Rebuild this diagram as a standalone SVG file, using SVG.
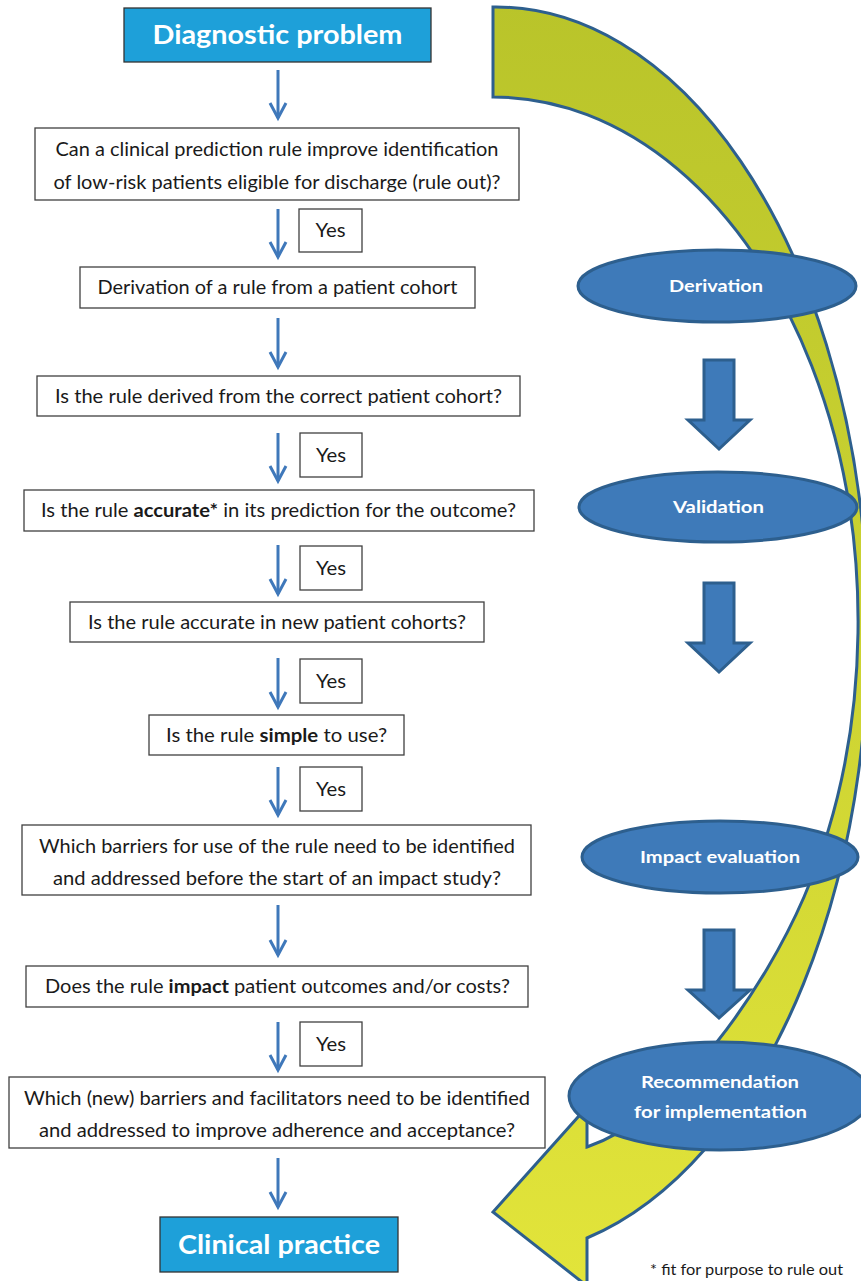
<svg xmlns="http://www.w3.org/2000/svg" width="861" height="1281" viewBox="0 0 861 1281">
<defs>
<style>
.box{fill:#fff;stroke:#404040;stroke-width:1.3}
.hdr{fill:#1ea0d9;stroke:#333;stroke-width:1.3}
.t{font-family:Lato,"Liberation Sans",sans-serif;font-size:19px;fill:#1a1a1a;text-anchor:middle}
.th{font-family:Lato,"Liberation Sans",sans-serif;font-size:26px;font-weight:bold;fill:#fff;text-anchor:middle}
.el{fill:#3e7ab9;stroke:#2d5f8e;stroke-width:3}
.et{font-family:Lato,"Liberation Sans",sans-serif;font-size:17px;font-weight:bold;fill:#fff;text-anchor:middle}
.conn{stroke:#3f78ba;stroke-width:3;fill:none;marker-end:url(#ah)}
.blk{fill:#3e7ab9;stroke:#2d5f8e;stroke-width:3;stroke-linejoin:miter}
.fn{font-family:Lato,"Liberation Sans",sans-serif;font-size:14.5px;fill:#1a1a1a}
</style>
<marker id="ah" markerUnits="userSpaceOnUse" markerWidth="20" markerHeight="18" refX="16" refY="9" orient="auto" viewBox="0 0 20 18" overflow="visible">
<path d="M1,1 L16,9 L1,17" fill="none" stroke="#3f78ba" stroke-width="3"/>
</marker>
<linearGradient id="bandg" gradientUnits="userSpaceOnUse" x1="0" y1="0" x2="0" y2="1281">
<stop offset="0" stop-color="#b9c42a"/>
<stop offset="0.5" stop-color="#ccd332"/>
<stop offset="1" stop-color="#e2e43a"/>
</linearGradient>
</defs>

<g id="curved-arrow">
<path d="M493,7 A372,625 0 0 1 587,1238 L587,1286 L493,1212 L587,1107 L587,1147 C680,1115 766,985 804,897 A365,525 0 0 0 493,97 Z" fill="url(#bandg)" stroke="#2d5f8e" stroke-width="3" stroke-linejoin="miter"/>
</g>

<g id="connectors">
<path class="conn" d="M278,70 V118"/>
<path class="conn" d="M278,209 V257"/>
<path class="conn" d="M278,318 V367"/>
<path class="conn" d="M278,433 V481"/>
<path class="conn" d="M278,545 V594"/>
<path class="conn" d="M278,658 V707"/>
<path class="conn" d="M278,767 V815"/>
<path class="conn" d="M278,905 V955"/>
<path class="conn" d="M278,1022 V1070"/>
<path class="conn" d="M278,1158 V1207"/>
</g>

<g id="n-diagnostic">
<rect class="hdr" x="124" y="8" width="307" height="54"/>
<text class="th" x="277.5" y="44" textLength="250" lengthAdjust="spacingAndGlyphs">Diagnostic problem</text>
</g>

<g id="n-q1">
<rect class="box" x="35" y="128" width="484" height="72"/>
<text class="t" x="277" y="156" textLength="443" lengthAdjust="spacingAndGlyphs">Can a clinical prediction rule improve identification</text>
<text class="t" x="277" y="188.5" textLength="447" lengthAdjust="spacingAndGlyphs">of low-risk patients eligible for discharge (rule out)?</text>
</g>

<g id="yes1"><rect class="box" x="299" y="209" width="63" height="43"/><text class="t" x="330.5" y="237" textLength="30" lengthAdjust="spacingAndGlyphs">Yes</text></g>

<g id="n-derivation-step">
<rect class="box" x="80" y="267" width="395" height="41"/>
<text class="t" x="277.5" y="294" textLength="360" lengthAdjust="spacingAndGlyphs">Derivation of a rule from a patient cohort</text>
</g>

<g id="n-q2">
<rect class="box" x="37" y="376" width="483" height="40"/>
<text class="t" x="278.5" y="402.5" textLength="447" lengthAdjust="spacingAndGlyphs">Is the rule derived from the correct patient cohort?</text>
</g>

<g id="yes2"><rect class="box" x="300" y="433" width="62" height="44"/><text class="t" x="331" y="461.5" textLength="30" lengthAdjust="spacingAndGlyphs">Yes</text></g>

<g id="n-q3">
<rect class="box" x="24" y="490" width="510" height="41"/>
<text class="t" x="278.5" y="517" textLength="475" lengthAdjust="spacingAndGlyphs">Is the rule <tspan font-weight="bold">accurate*</tspan> in its prediction for the outcome?</text>
</g>

<g id="yes3"><rect class="box" x="300" y="546" width="62" height="44"/><text class="t" x="331" y="574.5" textLength="30" lengthAdjust="spacingAndGlyphs">Yes</text></g>

<g id="n-q4">
<rect class="box" x="70" y="602" width="414" height="40"/>
<text class="t" x="277" y="628.5" textLength="378" lengthAdjust="spacingAndGlyphs">Is the rule accurate in new patient cohorts?</text>
</g>

<g id="yes4"><rect class="box" x="300" y="659" width="62" height="44"/><text class="t" x="331" y="687.5" textLength="30" lengthAdjust="spacingAndGlyphs">Yes</text></g>

<g id="n-q5">
<rect class="box" x="149" y="715" width="255" height="40"/>
<text class="t" x="276.5" y="741.5" textLength="221" lengthAdjust="spacingAndGlyphs">Is the rule <tspan font-weight="bold">simple</tspan> to use?</text>
</g>

<g id="yes5"><rect class="box" x="300" y="767" width="62" height="44"/><text class="t" x="331" y="795.5" textLength="30" lengthAdjust="spacingAndGlyphs">Yes</text></g>

<g id="n-q6">
<rect class="box" x="22" y="825" width="509" height="70"/>
<text class="t" x="277" y="852.5" textLength="476" lengthAdjust="spacingAndGlyphs">Which barriers for use of the rule need to be identified</text>
<text class="t" x="277" y="884.5" textLength="448" lengthAdjust="spacingAndGlyphs">and addressed before the start of an impact study?</text>
</g>

<g id="n-q7">
<rect class="box" x="26" y="966" width="502" height="41"/>
<text class="t" x="277.5" y="993" textLength="465" lengthAdjust="spacingAndGlyphs">Does the rule <tspan font-weight="bold">impact</tspan> patient outcomes and/or costs?</text>
</g>

<g id="yes6"><rect class="box" x="300" y="1022" width="62" height="44"/><text class="t" x="331" y="1050.5" textLength="30" lengthAdjust="spacingAndGlyphs">Yes</text></g>

<g id="n-q8">
<rect class="box" x="9" y="1077" width="536" height="71"/>
<text class="t" x="277" y="1104.5" textLength="506" lengthAdjust="spacingAndGlyphs">Which (new) barriers and facilitators need to be identified</text>
<text class="t" x="277" y="1136.5" textLength="476" lengthAdjust="spacingAndGlyphs">and addressed to improve adherence and acceptance?</text>
</g>

<g id="n-clinical">
<rect class="hdr" x="160" y="1217" width="238" height="55"/>
<text class="th" x="279" y="1254" textLength="202" lengthAdjust="spacingAndGlyphs">Clinical practice</text>
</g>

<g id="phase-derivation">
<ellipse class="el" cx="717" cy="286" rx="139" ry="36"/>
<text class="et" x="716" y="292" textLength="94" lengthAdjust="spacingAndGlyphs">Derivation</text>
</g>
<g id="block-arrow-1"><path class="blk" d="M704,360 H734 V420 H750 L719,449 L688,420 H704 Z"/></g>

<g id="phase-validation">
<ellipse class="el" cx="718" cy="507" rx="139" ry="35"/>
<text class="et" x="718.5" y="513" textLength="91" lengthAdjust="spacingAndGlyphs">Validation</text>
</g>
<g id="block-arrow-2"><path class="blk" d="M704,583 H734 V643 H750 L719,672 L688,643 H704 Z"/></g>

<g id="phase-impact">
<ellipse class="el" cx="720" cy="857" rx="138" ry="36"/>
<text class="et" x="720" y="863" textLength="160" lengthAdjust="spacingAndGlyphs">Impact evaluation</text>
</g>
<g id="block-arrow-3"><path class="blk" d="M704,930 H734 V990 H750 L719,1018 L688,990 H704 Z"/></g>

<g id="phase-recommendation">
<ellipse class="el" cx="720" cy="1096" rx="151" ry="54"/>
<text class="et" x="720" y="1088" textLength="158" lengthAdjust="spacingAndGlyphs">Recommendation</text>
<text class="et" x="720.5" y="1118" textLength="173" lengthAdjust="spacingAndGlyphs">for implementation</text>
</g>

<text class="fn" x="650" y="1275" textLength="193" lengthAdjust="spacingAndGlyphs">* fit for purpose to rule out</text>
</svg>
